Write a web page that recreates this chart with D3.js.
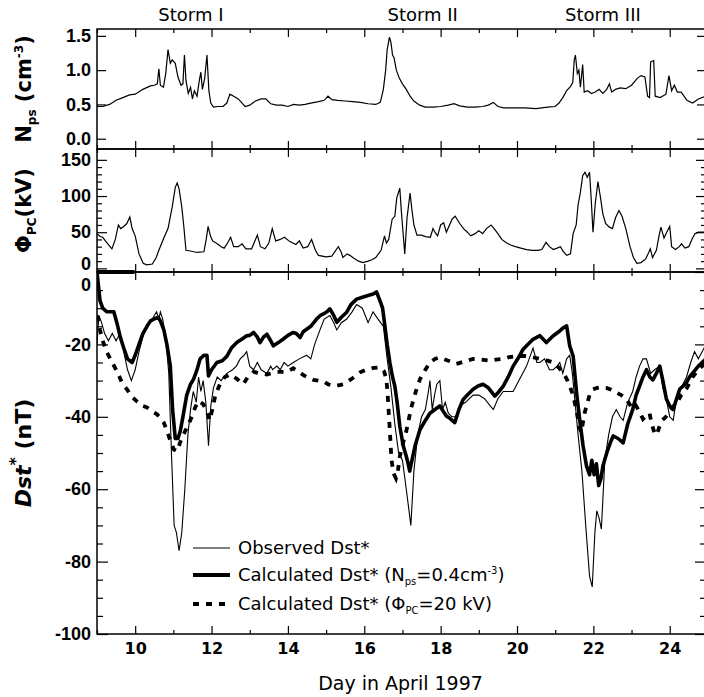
<!DOCTYPE html>
<html>
<head>
<meta charset="utf-8">
<script src="https://cdn.jsdelivr.net/npm/d3@7"></script>
<style>
  body { margin: 0; background: #fff; }
  svg { display: block; }
  text { font-family: "DejaVu Sans", sans-serif; fill: #000; }
</style>
</head>
<body>
<svg id="chart" width="704" height="697"></svg>
<script>
// ---- data (day in April 1997, value) ----
const storms = [
  { name: 'Storm I', day: 11.46 },
  { name: 'Storm II', day: 17.53 },
  { name: 'Storm III', day: 22.25 }
];
const dayTicks = [10, 12, 14, 16, 18, 20, 22, 24];
const npsTicks = [0, 0.5, 1.0, 1.5];
const phiTicks = [0, 50, 100, 150];
const dstTicks = [0, -20, -40, -60, -80, -100];

const npsData = [[9.0,0.47],[9.15,0.47],[9.33,0.50],[9.5,0.56],[9.68,0.60],[9.85,0.64],[10.0,0.65],[10.2,0.72],[10.4,0.77],[10.5,0.78],[10.58,0.80],[10.62,1.02],[10.66,0.78],[10.74,0.75],[10.8,0.95],[10.86,1.30],[10.92,1.10],[10.97,1.15],[11.05,1.10],[11.12,0.90],[11.2,0.78],[11.25,0.80],[11.29,1.22],[11.33,0.85],[11.39,0.66],[11.45,0.75],[11.5,0.58],[11.55,0.70],[11.62,0.62],[11.68,0.85],[11.72,0.97],[11.76,0.72],[11.82,0.88],[11.88,1.22],[11.93,0.70],[11.98,0.52],[12.05,0.46],[12.15,0.47],[12.3,0.47],[12.4,0.52],[12.48,0.65],[12.58,0.62],[12.7,0.58],[12.8,0.52],[12.88,0.47],[13.0,0.49],[13.15,0.55],[13.3,0.58],[13.42,0.58],[13.55,0.51],[13.7,0.49],[13.85,0.49],[14.0,0.47],[14.15,0.50],[14.3,0.49],[14.45,0.50],[14.6,0.52],[14.8,0.54],[14.95,0.56],[15.05,0.62],[15.15,0.57],[15.3,0.56],[15.5,0.55],[15.7,0.54],[15.9,0.53],[16.1,0.51],[16.3,0.50],[16.42,0.53],[16.5,0.72],[16.56,1.0],[16.6,1.30],[16.66,1.48],[16.7,1.40],[16.74,1.22],[16.78,1.18],[16.84,1.0],[16.92,0.88],[17.0,0.80],[17.1,0.72],[17.2,0.62],[17.3,0.55],[17.45,0.49],[17.6,0.46],[17.8,0.46],[18.0,0.47],[18.2,0.49],[18.35,0.51],[18.5,0.48],[18.7,0.46],[18.9,0.46],[19.1,0.47],[19.25,0.49],[19.38,0.53],[19.5,0.47],[19.65,0.45],[19.9,0.45],[20.2,0.45],[20.5,0.44],[20.8,0.46],[21.0,0.47],[21.1,0.52],[21.2,0.60],[21.3,0.70],[21.4,0.76],[21.46,0.82],[21.5,1.15],[21.53,1.22],[21.58,0.95],[21.62,1.00],[21.66,0.75],[21.72,1.08],[21.76,0.68],[21.85,0.70],[21.95,0.66],[22.05,0.68],[22.15,0.72],[22.25,0.66],[22.35,0.72],[22.42,0.80],[22.48,0.68],[22.58,0.72],[22.7,0.74],[22.85,0.73],[23.0,0.78],[23.15,0.88],[23.25,0.92],[23.35,0.90],[23.42,0.62],[23.47,0.60],[23.5,1.12],[23.58,1.14],[23.62,0.62],[23.75,0.60],[23.9,0.65],[23.98,0.92],[24.05,0.70],[24.12,0.78],[24.2,0.68],[24.3,0.68],[24.45,0.56],[24.6,0.52],[24.75,0.58],[24.95,0.62]];

const phiData = [[9.0,48],[9.08,44],[9.15,43],[9.25,36],[9.39,27],[9.48,40],[9.56,60],[9.62,55],[9.7,58],[9.78,62],[9.86,71],[9.92,55],[10.0,45],[10.1,20],[10.21,7],[10.3,5],[10.45,6],[10.55,15],[10.62,25],[10.75,42],[10.86,55],[10.97,85],[11.05,112],[11.1,118],[11.15,110],[11.22,85],[11.27,60],[11.33,25],[11.45,24],[11.62,22],[11.8,23],[11.86,40],[11.91,58],[11.97,45],[12.03,38],[12.15,34],[12.25,30],[12.33,28],[12.42,35],[12.5,43],[12.58,30],[12.7,30],[12.8,34],[12.9,27],[13.05,27],[13.2,46],[13.28,30],[13.4,27],[13.5,35],[13.59,55],[13.68,38],[13.8,40],[13.91,43],[14.05,37],[14.21,33],[14.3,38],[14.4,28],[14.52,30],[14.62,40],[14.72,25],[14.8,18],[15.0,16],[15.15,17],[15.32,30],[15.4,22],[15.44,15],[15.55,20],[15.62,18],[15.73,14],[15.85,10],[15.97,8],[16.1,10],[16.2,12],[16.3,15],[16.44,25],[16.53,45],[16.58,35],[16.64,40],[16.73,68],[16.8,72],[16.85,97],[16.93,111],[16.97,80],[17.03,40],[17.06,20],[17.12,70],[17.2,104],[17.25,80],[17.3,60],[17.38,46],[17.5,46],[17.6,44],[17.73,43],[17.8,55],[17.85,50],[17.92,45],[18.0,60],[18.08,63],[18.15,50],[18.3,68],[18.38,72],[18.5,62],[18.6,55],[18.7,50],[18.79,45],[18.9,48],[19.0,52],[19.1,48],[19.2,55],[19.32,60],[19.4,55],[19.5,48],[19.6,40],[19.73,35],[19.85,32],[19.96,30],[20.1,28],[20.25,26],[20.4,25],[20.55,25],[20.65,26],[20.76,36],[20.85,30],[20.95,26],[21.05,28],[21.14,30],[21.2,24],[21.3,18],[21.4,20],[21.47,48],[21.55,60],[21.6,88],[21.66,105],[21.72,128],[21.78,133],[21.84,126],[21.9,133],[21.95,90],[21.99,50],[22.05,90],[22.12,120],[22.18,100],[22.25,75],[22.32,62],[22.42,57],[22.5,55],[22.58,70],[22.67,80],[22.75,72],[22.85,55],[22.96,30],[23.05,15],[23.14,7],[23.25,8],[23.37,13],[23.45,22],[23.49,27],[23.55,15],[23.65,25],[23.72,45],[23.77,57],[23.85,42],[23.92,50],[24.0,58],[24.05,30],[24.15,26],[24.25,30],[24.31,34],[24.4,28],[24.5,30],[24.58,40],[24.66,48],[24.75,50],[24.95,50]];

const dstObs = [[9.0,-20],[9.05,-12],[9.12,-14],[9.2,-17],[9.3,-19],[9.4,-17],[9.5,-19],[9.6,-17],[9.7,-22],[9.8,-27],[9.9,-30],[10.0,-27],[10.1,-22],[10.2,-18],[10.3,-15],[10.4,-14],[10.5,-12],[10.56,-11],[10.62,-13],[10.66,-11],[10.72,-13],[10.8,-18],[10.88,-28],[10.95,-50],[11.02,-70],[11.08,-72],[11.15,-77],[11.22,-72],[11.3,-60],[11.38,-45],[11.45,-38],[11.52,-33],[11.6,-36],[11.66,-29],[11.72,-33],[11.78,-30],[11.85,-36],[11.92,-48],[11.98,-37],[12.05,-32],[12.15,-29],[12.25,-30],[12.4,-28],[12.55,-27],[12.65,-26],[12.75,-24],[12.85,-23],[12.92,-22],[13.0,-26],[13.1,-27],[13.2,-25],[13.3,-27],[13.45,-28],[13.55,-26],[13.6,-27],[13.71,-26],[13.8,-27],[13.9,-25],[14.0,-26],[14.14,-25],[14.3,-24],[14.49,-23],[14.6,-24],[14.7,-20],[14.84,-16],[14.95,-13],[15.1,-12],[15.2,-14],[15.28,-16],[15.4,-14],[15.54,-13],[15.68,-11],[15.8,-9],[15.95,-10],[16.1,-14],[16.23,-11],[16.36,-13],[16.5,-15],[16.6,-24],[16.7,-32],[16.8,-42],[16.9,-50],[17.0,-52],[17.1,-60],[17.22,-70],[17.3,-55],[17.4,-45],[17.5,-40],[17.6,-38],[17.68,-33],[17.72,-30],[17.78,-38],[17.84,-34],[17.9,-31],[17.98,-30],[18.05,-38],[18.12,-36],[18.2,-39],[18.3,-40],[18.4,-40],[18.5,-37],[18.65,-36],[18.85,-34],[19.0,-34],[19.15,-35],[19.3,-37],[19.38,-38],[19.5,-35],[19.64,-33],[19.8,-33],[19.9,-33],[20.05,-30],[20.25,-26],[20.42,-21],[20.52,-25],[20.6,-25],[20.72,-24],[20.85,-27],[20.95,-27],[21.05,-26],[21.12,-25],[21.2,-28],[21.3,-24],[21.38,-23],[21.45,-28],[21.52,-36],[21.6,-45],[21.7,-55],[21.8,-70],[21.9,-84],[21.97,-87],[22.04,-72],[22.09,-66],[22.15,-68],[22.21,-71],[22.3,-52],[22.4,-45],[22.5,-40],[22.6,-38],[22.7,-40],[22.78,-41],[22.9,-36],[23.03,-33],[23.12,-29],[23.21,-26],[23.3,-24],[23.39,-24],[23.5,-28],[23.6,-27],[23.74,-26],[23.82,-32],[23.91,-35],[24.0,-40],[24.09,-41],[24.18,-35],[24.3,-32],[24.44,-29],[24.55,-25],[24.65,-22],[24.75,-24],[24.95,-20]];

const dstCalcN = [[9.0,0],[9.04,-4],[9.08,-8],[9.15,-10],[9.26,-11],[9.35,-11],[9.44,-11],[9.52,-14],[9.61,-18],[9.7,-21],[9.8,-24],[9.92,-25],[10.0,-23],[10.1,-20],[10.2,-17],[10.31,-15],[10.4,-13.5],[10.49,-13],[10.6,-12.5],[10.66,-13.5],[10.75,-16],[10.83,-20],[10.92,-26],[10.98,-38],[11.05,-46],[11.12,-46],[11.18,-44],[11.25,-40],[11.35,-34],[11.45,-31],[11.53,-29.6],[11.62,-27],[11.7,-24],[11.8,-23],[11.88,-23],[11.92,-28.7],[12.0,-27],[12.14,-25],[12.28,-24.5],[12.4,-23.3],[12.52,-21],[12.66,-19.5],[12.8,-18.5],[12.92,-17.6],[13.0,-17.5],[13.1,-16.7],[13.2,-18],[13.27,-19.5],[13.36,-18],[13.45,-17.2],[13.55,-19],[13.62,-20.4],[13.75,-19.5],[13.88,-18.5],[14.0,-17.5],[14.14,-16.7],[14.22,-17],[14.32,-18.1],[14.4,-16.5],[14.49,-15.8],[14.6,-15],[14.75,-13],[14.85,-12],[14.93,-11.6],[15.02,-11],[15.1,-10.2],[15.2,-12],[15.28,-13.9],[15.4,-12.5],[15.54,-11.1],[15.65,-9],[15.8,-7.5],[15.95,-7],[16.1,-6.5],[16.23,-6.1],[16.32,-5.5],[16.41,-7.9],[16.48,-10],[16.54,-14.9],[16.6,-20],[16.67,-25],[16.74,-29],[16.8,-31.5],[16.86,-36],[16.93,-42.6],[17.02,-48],[17.1,-50.9],[17.15,-53],[17.19,-55],[17.25,-52],[17.33,-48],[17.46,-43.5],[17.6,-41],[17.72,-39],[17.85,-38],[17.98,-37],[18.07,-38.5],[18.15,-39.8],[18.25,-40.5],[18.37,-41.6],[18.48,-38],[18.59,-35.2],[18.7,-34],[18.85,-32.4],[18.98,-31.5],[19.11,-31],[19.25,-32],[19.42,-34.3],[19.53,-33],[19.64,-31.5],[19.77,-29],[19.9,-26],[20.05,-23.5],[20.15,-21.5],[20.25,-20.4],[20.42,-18.6],[20.6,-17.6],[20.77,-19.5],[20.95,-17.6],[21.12,-16.3],[21.2,-15.5],[21.3,-14.9],[21.38,-20.4],[21.47,-23.2],[21.56,-33.3],[21.64,-40.6],[21.73,-48],[21.82,-53.6],[21.9,-56],[21.96,-52],[22.02,-56],[22.08,-53],[22.14,-59],[22.2,-57],[22.25,-53.6],[22.35,-50],[22.45,-47],[22.52,-45.3],[22.65,-46],[22.78,-47.2],[22.9,-42],[23.03,-38],[23.12,-34],[23.21,-31.5],[23.3,-29],[23.39,-27],[23.48,-29],[23.56,-29.8],[23.65,-28],[23.74,-26],[23.82,-30],[23.91,-35],[24.0,-37],[24.09,-38],[24.18,-35],[24.26,-32.4],[24.35,-31.5],[24.44,-30.5],[24.52,-29],[24.61,-27.8],[24.75,-26],[24.95,-24]];
const dstInit = [[9.0,0],[9.98,0]];

const dstCalcPhi = [[9.0,-12],[9.08,-16],[9.15,-19],[9.25,-22],[9.35,-24],[9.45,-26],[9.55,-28],[9.65,-30.5],[9.79,-32.5],[9.92,-34.5],[10.05,-35.8],[10.2,-37],[10.31,-37.4],[10.45,-38.5],[10.57,-39.3],[10.67,-40.5],[10.75,-41.6],[10.83,-43.9],[10.92,-46.5],[11.01,-49],[11.1,-49.5],[11.18,-47],[11.27,-44.8],[11.4,-42],[11.5,-39.5],[11.57,-37.4],[11.66,-35.6],[11.78,-36.5],[11.88,-38.5],[11.95,-41],[12.02,-38],[12.1,-34],[12.23,-30.7],[12.35,-29],[12.49,-28.3],[12.66,-29.5],[12.83,-31],[12.95,-29],[13.1,-27.6],[13.27,-28],[13.45,-28.3],[13.6,-27.9],[13.71,-27.6],[13.85,-27.6],[13.97,-27.6],[14.14,-26.6],[14.28,-27.5],[14.41,-28.5],[14.55,-29.3],[14.67,-29.8],[14.8,-30],[14.93,-30.2],[15.05,-31],[15.2,-31.5],[15.32,-31.3],[15.45,-31],[15.6,-30],[15.71,-29.2],[15.88,-27.8],[16.05,-27],[16.25,-26.5],[16.41,-26.4],[16.52,-27.5],[16.58,-29.6],[16.62,-35],[16.67,-44],[16.71,-51.5],[16.76,-55.5],[16.83,-57],[16.88,-55],[16.93,-51],[17.02,-47],[17.1,-44],[17.23,-37.5],[17.35,-33],[17.46,-29.6],[17.6,-27],[17.72,-25],[17.85,-24],[17.98,-23.6],[18.2,-24.5],[18.41,-25.4],[18.6,-24.8],[18.85,-24],[19.05,-24.2],[19.29,-24.5],[19.45,-24.2],[19.64,-24],[19.8,-23.5],[19.99,-23.2],[20.2,-23.2],[20.4,-23.5],[20.6,-24],[20.8,-24.5],[20.95,-25],[21.1,-26.5],[21.21,-27.8],[21.3,-29.5],[21.38,-31.5],[21.45,-33.5],[21.51,-36],[21.56,-38.5],[21.6,-40.6],[21.64,-43],[21.68,-44.3],[21.72,-42],[21.77,-39],[21.82,-37],[21.9,-34],[21.99,-32.4],[22.1,-32],[22.2,-31.8],[22.34,-32],[22.47,-32.5],[22.6,-33.3],[22.73,-34],[22.86,-35],[22.95,-36.5],[23.03,-38],[23.12,-37],[23.2,-38.5],[23.3,-40.6],[23.4,-39.5],[23.47,-39],[23.53,-42],[23.6,-44.4],[23.66,-45],[23.72,-43],[23.8,-41],[23.9,-40],[24.0,-38.5],[24.1,-37],[24.2,-36],[24.3,-34],[24.45,-32],[24.6,-29],[24.75,-27],[24.95,-25]];

// ---- layout ----
const svg = d3.select('#chart');
const left = 97, right = 706;
const panels = [
  { top: 29, bottom: 149 },
  { top: 149, bottom: 272 },
  { top: 272, bottom: 634 }
];

const x = d3.scaleLinear().domain([9, 24.95]).range([left, right]);
const y1 = d3.scaleLinear().domain([-0.15, 1.6]).range([panels[0].bottom, panels[0].top]);
const y2 = d3.scaleLinear().domain([-5, 165]).range([panels[1].bottom, panels[1].top]);
const y3 = d3.scaleLinear().domain([-100, 0]).range([panels[2].bottom, panels[2].top]);

svg.append('defs').append('clipPath').attr('id', 'clip')
  .append('rect').attr('x', left).attr('y', 0).attr('width', right - left).attr('height', 697);

function line(yScale) {
  return d3.line().x(d => x(d[0])).y(d => yScale(d[1]));
}

function styleAxis(g) {
  g.select('.domain').remove();
  g.selectAll('line').attr('stroke', '#000').attr('stroke-width', 1.2);
}

// frames, x ticks on every panel edge
const minorDays = d3.range(9, 25, 1).filter(d => d % 2 === 1);
panels.forEach((p, i) => {
  svg.append('rect')
    .attr('x', left).attr('y', p.top)
    .attr('width', right - left).attr('height', p.bottom - p.top)
    .attr('fill', 'none').attr('stroke', '#000').attr('stroke-width', 1.5);

  svg.append('g').attr('transform', `translate(0,${p.top})`)
    .call(d3.axisTop(x).tickValues(dayTicks).tickSize(-8).tickFormat(''))
    .call(styleAxis);
  svg.append('g').attr('transform', `translate(0,${p.top})`)
    .call(d3.axisTop(x).tickValues(minorDays).tickSize(-4).tickFormat(''))
    .call(styleAxis);
  const bottom = svg.append('g').attr('transform', `translate(0,${p.bottom})`)
    .call(d3.axisBottom(x).tickValues(dayTicks).tickSize(-8).tickPadding(9)
      .tickFormat(i === 2 ? d => String(d) : ''))
    .call(styleAxis);
  bottom.selectAll('text')
    .style('font-size', '16px').style('font-weight', 'bold');
  svg.append('g').attr('transform', `translate(0,${p.bottom})`)
    .call(d3.axisBottom(x).tickValues(minorDays).tickSize(-4).tickFormat(''))
    .call(styleAxis);
});

// y axes (ticks inward on both sides)
function yAxes(scale, ticks, minor, fmt, majorLen, minorLen) {
  const gl = svg.append('g').attr('transform', `translate(${left},0)`)
    .call(d3.axisLeft(scale).tickValues(ticks).tickSize(-majorLen).tickPadding(6).tickFormat(fmt))
    .call(styleAxis);
  gl.selectAll('text')
    .style('font-family', '"Liberation Sans", Arial, sans-serif')
    .style('font-size', '18px').style('font-weight', 'bold');
  svg.append('g').attr('transform', `translate(${right},0)`)
    .call(d3.axisRight(scale).tickValues(ticks).tickSize(-majorLen).tickFormat(''))
    .call(styleAxis);
  if (minor.length) {
    svg.append('g').attr('transform', `translate(${left},0)`)
      .call(d3.axisLeft(scale).tickValues(minor).tickSize(-minorLen).tickFormat(''))
      .call(styleAxis);
    svg.append('g').attr('transform', `translate(${right},0)`)
      .call(d3.axisRight(scale).tickValues(minor).tickSize(-minorLen).tickFormat(''))
      .call(styleAxis);
  }
  return gl;
}
yAxes(y1, npsTicks, [], d3.format('.1f'), 9, 0);
const phiAxis = yAxes(y2, phiTicks, d3.range(10, 160, 10).filter(v => v % 50 !== 0), d => String(d), 10, 5);
const dstAxis = yAxes(y3, dstTicks, d3.range(-95, 0, 5).filter(v => v % 20 !== 0), d => String(d), 11, 6);
// the two zero labels meet at the panel boundary: nudge them apart
phiAxis.selectAll('.tick').filter(d => d === 0).select('text').attr('dy', '0.05em');
dstAxis.selectAll('.tick').filter(d => d === 0).select('text').attr('dy', '1em');

// data lines
const plot = svg.append('g').attr('clip-path', 'url(#clip)');
plot.append('path').datum(npsData)
  .attr('d', line(y1)).attr('fill', 'none').attr('stroke', '#000').attr('stroke-width', 1.2);
plot.append('path').datum(phiData)
  .attr('d', line(y2)).attr('fill', 'none').attr('stroke', '#000').attr('stroke-width', 1.2);
plot.append('path').datum(dstCalcPhi)
  .attr('d', line(y3)).attr('fill', 'none').attr('stroke', '#000')
  .attr('stroke-width', 3.8).attr('stroke-dasharray', '6,7');
plot.append('path').datum(dstObs)
  .attr('d', line(y3)).attr('fill', 'none').attr('stroke', '#000').attr('stroke-width', 1.1);
plot.append('path').datum(dstCalcN)
  .attr('d', line(y3)).attr('fill', 'none').attr('stroke', '#000')
  .attr('stroke-width', 3.6).attr('stroke-linejoin', 'round');
plot.append('path').datum(dstInit)
  .attr('d', line(y3)).attr('fill', 'none').attr('stroke', '#000').attr('stroke-width', 4);

// storm labels
svg.selectAll('.storm').data(storms).enter().append('text')
  .attr('class', 'storm')
  .attr('x', d => x(d.day)).attr('y', 21)
  .attr('text-anchor', 'middle')
  .style('font-size', '18px')
  .text(d => d.name);

// axis titles
const t1 = svg.append('text')
  .attr('transform', `translate(31,${(panels[0].top + panels[0].bottom) / 2}) rotate(-90)`)
  .attr('text-anchor', 'middle').style('font-size', '21px').style('font-weight', 'bold');
t1.append('tspan').text('N');
t1.append('tspan').attr('dy', 5).style('font-size', '12px').text('ps');
t1.append('tspan').attr('dy', -5).text(' (cm');
t1.append('tspan').attr('dy', -8).style('font-size', '12px').text('-3');
t1.append('tspan').attr('dy', 8).text(')');

const t2 = svg.append('text')
  .attr('transform', `translate(31,${(panels[1].top + panels[1].bottom) / 2}) rotate(-90)`)
  .attr('text-anchor', 'middle').style('font-size', '21px').style('font-weight', 'bold');
t2.append('tspan').text('Φ');
t2.append('tspan').attr('dy', 5).style('font-size', '12px').text('PC');
t2.append('tspan').attr('dy', -5).text('(kV)');

const t3 = svg.append('text')
  .attr('transform', `translate(31,${(panels[2].top + panels[2].bottom) / 2}) rotate(-90)`)
  .attr('text-anchor', 'middle').style('font-size', '22px').style('font-weight', 'bold');
t3.append('tspan').style('font-style', 'italic').text('Dst');
t3.append('tspan').attr('dy', -10).style('font-size', '16px').text('*');
t3.append('tspan').attr('dy', 10).text(' (nT)');

svg.append('text')
  .attr('x', (left + 704) / 2).attr('y', 690)
  .attr('text-anchor', 'middle').style('font-size', '19px')
  .text('Day in April 1997');

// legend
const legend = svg.append('g');
const rows = [
  { w: 1.1, dash: null, y: 548 },
  { w: 3.8, dash: null, y: 575 },
  { w: 3.8, dash: '6,7', y: 604 }
];
rows.forEach(r => {
  legend.append('line')
    .attr('x1', 193).attr('x2', 230).attr('y1', r.y).attr('y2', r.y)
    .attr('stroke', '#000').attr('stroke-width', r.w)
    .attr('stroke-dasharray', r.dash);
});
const lt = (yy) => legend.append('text').attr('x', 238).attr('y', yy + 6).style('font-size', '18px');
lt(rows[0].y).text('Observed Dst*');
const l2 = lt(rows[1].y);
l2.append('tspan').text('Calculated Dst* (N');
l2.append('tspan').attr('dy', 4).style('font-size', '10px').text('ps');
l2.append('tspan').attr('dy', -4).text('=0.4cm');
l2.append('tspan').attr('dy', -7).style('font-size', '10px').text('-3');
l2.append('tspan').attr('dy', 7).text(')');
const l3 = lt(rows[2].y);
l3.append('tspan').text('Calculated Dst* (Φ');
l3.append('tspan').attr('dy', 4).style('font-size', '10px').text('PC');
l3.append('tspan').attr('dy', -4).text('=20 kV)');
</script>
</body>
</html>
